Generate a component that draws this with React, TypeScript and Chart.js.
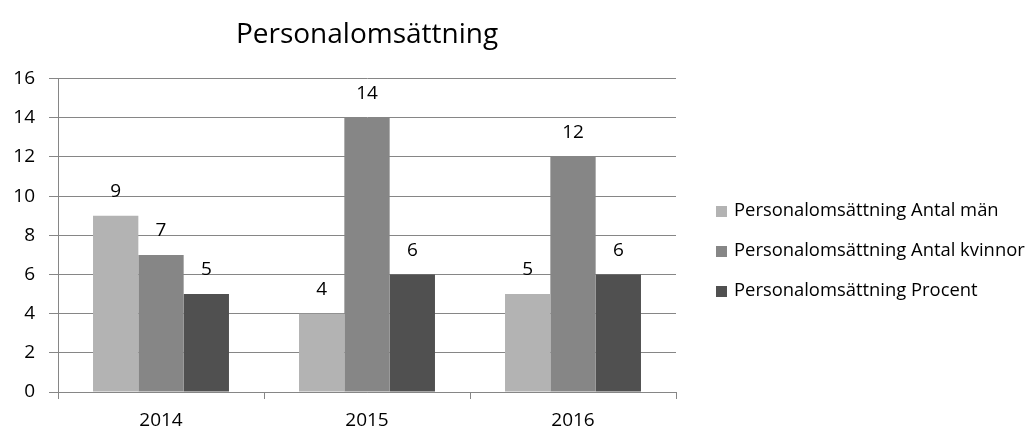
import React, { useEffect, useRef } from "react";
import { Chart, registerables } from "chart.js";

Chart.register(...registerables);

const years = ["2014", "2015", "2016"];
const antalMan = [9, 4, 5];
const antalKvinnor = [7, 14, 12];
const procent = [5, 6, 6];
const seriesNames = [
  "Personalomsättning Antal män",
  "Personalomsättning Antal kvinnor",
  "Personalomsättning Procent",
];
const seriesColors = ["#b3b3b3", "#868686", "#505050"];

const FONT = "'Open Sans', sans-serif";

// Value printed above each bar
const valueLabels = {
  id: "valueLabels",
  afterDatasetsDraw(chart: any) {
    const ctx = chart.ctx;
    ctx.save();
    ctx.font = `19px ${FONT}`;
    ctx.fillStyle = "#000";
    ctx.textAlign = "center";
    ctx.textBaseline = "middle";
    chart.data.datasets.forEach((ds: any, i: number) => {
      const meta = chart.getDatasetMeta(i);
      meta.data.forEach((bar: any, j: number) => {
        ctx.fillText(String(ds.data[j]), bar.x, bar.y - 24);
      });
    });
    ctx.restore();
  },
};

// Vertical legend to the right of the plot
const sideLegend = {
  id: "sideLegend",
  afterDraw(chart: any) {
    const ctx = chart.ctx;
    const x = chart.chartArea.right + 40;
    const yStart = 211;
    const gap = 40;
    ctx.save();
    ctx.font = `18.4px ${FONT}`;
    ctx.textBaseline = "middle";
    ctx.textAlign = "left";
    chart.data.datasets.forEach((ds: any, i: number) => {
      const y = yStart + i * gap;
      ctx.fillStyle = ds.backgroundColor;
      ctx.fillRect(x, y - 5, 11, 11);
      ctx.fillStyle = "#000";
      ctx.fillText(ds.label, x + 18, y);
    });
    ctx.restore();
  },
};

export default function App() {
  const canvasRef = useRef<HTMLCanvasElement>(null);

  useEffect(() => {
    if (!canvasRef.current) return;
    const values = [antalMan, antalKvinnor, procent];
    const chart = new Chart(canvasRef.current, {
      type: "bar",
      data: {
        labels: years,
        datasets: values.map((d, i) => ({
          label: seriesNames[i],
          data: d,
          backgroundColor: seriesColors[i],
          categoryPercentage: 0.66,
          barPercentage: 1,
        })),
      },
      options: {
        animation: false,
        responsive: false,
        maintainAspectRatio: false,
        layout: { padding: { left: 0, right: 352, top: 0, bottom: 0 } },
        plugins: {
          legend: { display: false },
          tooltip: { enabled: false },
          title: {
            display: true,
            text: "Personalomsättning",
            fullSize: false,
            color: "#000",
            font: { family: FONT, size: 28, weight: "normal" },
            padding: { top: 18, bottom: 27 },
          },
        },
        scales: {
          x: {
            afterFit: (s: any) => {
              s.height = 39;
            },
            grid: {
              offset: true,
              drawOnChartArea: false,
              drawTicks: true,
              tickLength: 7,
              color: "#868686",
            },
            border: { display: true, color: "#868686" },
            ticks: {
              color: "#000",
              font: { family: FONT, size: 19 },
              padding: 10,
            },
          },
          y: {
            min: 0,
            max: 16,
            afterFit: (s: any) => {
              s.width = 58;
            },
            grid: {
              color: "#868686",
              tickLength: 9,
            },
            border: { display: true, color: "#868686" },
            ticks: {
              stepSize: 2,
              color: "#000",
              font: { family: FONT, size: 19 },
              padding: 14,
            },
          },
        },
      },
      plugins: [valueLabels, sideLegend],
    });
    return () => chart.destroy();
  }, []);

  return (
    <div style={{ position: "fixed", left: 0, top: 0, width: 1028, height: 431, background: "#fff" }}>
      <canvas ref={canvasRef} width={1028} height={431} />
    </div>
  );
}
